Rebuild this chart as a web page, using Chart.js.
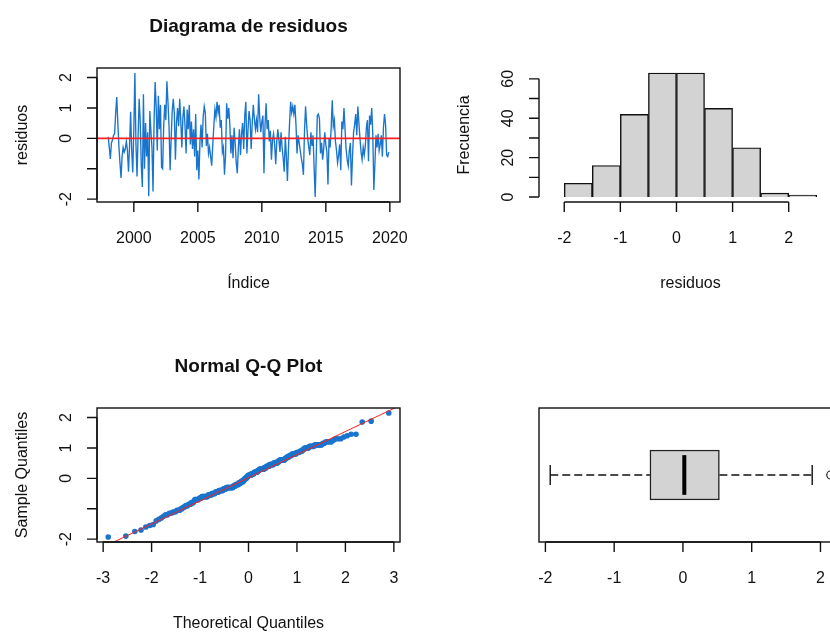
<!DOCTYPE html>
<html>

<head>
    <meta charset="utf-8">
    <title>Diagnóstico de residuos</title>
    <script src="https://cdn.jsdelivr.net/npm/chart.js"></script>
    <style>
        html,
        body {
            margin: 0;
            padding: 0;
            background: #fff;
            overflow: hidden;
        }

        body {
            position: relative;
            width: 830px;
            height: 633px;
        }

        canvas {
            position: absolute;
        }
    </style>
</head>

<body>
    <canvas id="serie" width="415" height="316" style="left:0;top:0"></canvas>
    <canvas id="histo" width="440" height="316" style="left:415px;top:0"></canvas>
    <canvas id="qq" width="415" height="317" style="left:0;top:316px"></canvas>
    <canvas id="caja" width="440" height="317" style="left:415px;top:316px"></canvas>

    <script>
        // residuos mensuales, enero 1998 - diciembre 2019
        const anioInicio = 1998;
        const residuos = [
            0.05, -0.3, -0.68, -0.15, -0.05, 0.1, 0.15, 0.85, 1.36, 0.5, -0.25, -0.8,
            -1.3, -0.6, -0.3, -0.45, -0.35, -0.1, -0.4, -1.1, -0.25, 0.87, -0.4, -1.12,
            0.3, 2.15, -0.2, -1.25, 0.05, 1.3, 0.55, -0.9, -1.6, 1.45, -1.0, 0.5,
            -0.6, 0.2, -1.9, 0.9, 0.25, -0.3, -1.75, 0.6, 1.85, 1.0, -0.4, 1.4,
            0.3, 1.1, -0.95, -1.0, 0.4, 1.1, 0.6, 1.88, 1.2, 0.4, -1.05, 0.0,
            0.9, 1.3, 0.8, -0.7, 0.5, 1.0, 0.4, 1.3, 0.6, -0.3, 0.7, 1.05,
            0.4, -0.5, 0.95, 0.3, 1.1, -0.2, 0.55, -0.35, 0.3, -0.6, 0.8, -1.05,
            -0.4, -1.35, -0.1, 0.45, -0.3, 0.7, 1.05, 0.85, -0.25, 0.15, -0.5, -0.3,
            -0.6, -0.9, -0.2, 0.4, 0.95, 0.7, 1.2, 0.85, 1.1, 0.35, 0.6, -0.45,
            -0.3, -1.2, -0.55, 1.15, 0.65, 1.0, 0.45, -0.5, 0.1, -0.65, 0.35, -0.15,
            -0.8, -1.15, -0.3, 0.3, -0.55, 0.15, 0.5, -0.35, 0.75, 1.2, -0.5, 0.25,
            0.9, 0.6, -0.35, 0.5, 1.1, 0.65, 0.3, 0.6, 0.2, 1.45, 0.7, 0.2,
            0.55, 0.75, -1.15, 0.45, 1.15, 0.3, 0.6, -0.1, 0.25, -0.7, -0.05, 0.15,
            -0.2, -0.85, -0.1, 0.3, -0.05, -0.45, 0.2, -0.3, -0.65, -1.1, 0.05, -0.6,
            -1.4, -0.3, 0.5, 1.2, 0.85, 1.05, 0.8, 1.1, 0.45, -0.5, 0.1, -0.15,
            -0.4, -0.65, -0.85, -1.2, 0.25, 1.05, 0.45, 0.0, -0.3, -0.55, 0.2, -0.25,
            0.1, -0.95, -1.93, -0.6, 0.75, 0.8, 0.65, -0.5, -0.15, -0.7, -0.35, 0.2,
            -0.2, -0.45, -1.52, 0.0, -0.3, 0.35, 1.25, 0.4, 0.6, -0.1, -0.4, -0.8,
            -0.55, -0.2, -1.05, 0.55, 0.3, 1.0, 0.3, -0.35, -0.7, -0.9, -0.4, -0.15,
            -1.55, -0.6, 0.2, 0.45, 0.8, 0.1, 1.05, 0.5, 0.0, -0.45, -0.7, -0.3,
            -0.55, -0.25, 0.35, 0.6, -0.75, 0.75, 0.45, 1.0, 0.15, -1.7, -0.85, 0.1,
            -0.3, 0.15, -0.4, -0.2, 0.1, -0.6, 0.35, 0.8, 0.45, -0.55, -0.6, -0.45
        ];

        // histograma
        const cortes = [-2, -1.5, -1, -0.5, 0, 0.5, 1, 1.5, 2, 2.5];
        const frecuencias = [7, 16, 42, 63, 63, 45, 25, 2, 1];

        // boxplot
        const bigoteInf = -1.93;
        const cuartil1 = -0.48;
        const mediana = 0.02;
        const cuartil3 = 0.53;
        const bigoteSup = 1.88;
        const atipicos = [2.15];

        // recta de referencia del Q-Q
        const qqIntercepto = 0.02;
        const qqPendiente = 0.76;

        // marcas y etiquetas de los ejes
        const marcasAnio = [2000, 2005, 2010, 2015, 2020];
        const etiquetasAnio = ['2000', '2005', '2010', '2015', '2020'];
        const marcasRes = [-2, -1, 0, 1, 2];
        const etiquetasRes = ['-2', '', '0', '1', '2'];
        const marcasHistX = [-2, -1, 0, 1, 2];
        const etiquetasHistX = ['-2', '-1', '0', '1', '2'];
        const marcasFreq = [0, 10, 20, 30, 40, 50, 60];
        const etiquetasFreq = ['0', '', '20', '', '40', '', '60'];
        const marcasTeo = [-3, -2, -1, 0, 1, 2, 3];
        const etiquetasTeo = ['-3', '-2', '-1', '0', '1', '2', '3'];

        const azul = '#1874CD';
        const rojo = '#FF2020';
        const gris = '#D3D3D3';
        const tinta = '#111';
        const fuente = '"Liberation Sans", Arial, Helvetica, sans-serif';

        // R extiende los limites un 4% por cada lado
        function rangoR(min, max) {
            const e = (max - min) * 0.04;
            return { min: min - e, max: max + e };
        }

        // cuantiles de la normal estandar (Acklam)
        function qnorm(p) {
            const a = [-3.969683028665376e+01, 2.209460984245205e+02, -2.759285104469687e+02, 1.383577518672690e+02, -3.066479806614716e+01, 2.506628277459239e+00];
            const b = [-5.447609879822406e+01, 1.615858368580409e+02, -1.556989798598866e+02, 6.680131188771972e+01, -1.328068155288572e+01];
            const c = [-7.784894002430293e-03, -3.223964580411365e-01, -2.400758277161838e+00, -2.549732539343734e+00, 4.374664141464968e+00, 2.938163982698783e+00];
            const d = [7.784695709041462e-03, 3.224671290700398e-01, 2.445134137142996e+00, 3.754408661907416e+00];
            const pl = 0.02425;
            let q, r;
            if (p < pl) {
                q = Math.sqrt(-2 * Math.log(p));
                return (((((c[0] * q + c[1]) * q + c[2]) * q + c[3]) * q + c[4]) * q + c[5]) / ((((d[0] * q + d[1]) * q + d[2]) * q + d[3]) * q + 1);
            }
            if (p > 1 - pl) {
                q = Math.sqrt(-2 * Math.log(1 - p));
                return -(((((c[0] * q + c[1]) * q + c[2]) * q + c[3]) * q + c[4]) * q + c[5]) / ((((d[0] * q + d[1]) * q + d[2]) * q + d[3]) * q + 1);
            }
            q = p - 0.5;
            r = q * q;
            return (((((a[0] * r + a[1]) * r + a[2]) * r + a[3]) * r + a[4]) * r + a[5]) * q / (((((b[0] * r + b[1]) * r + b[2]) * r + b[3]) * r + b[4]) * r + 1);
        }

        // ejes al estilo de R: linea entre la primera y la ultima marca, etiquetas del eje y giradas
        function ejesR(op) {
            return {
                id: 'ejesR',
                afterDraw(chart) {
                    const ctx = chart.ctx, a = chart.chartArea;
                    const midX = (a.left + a.right) / 2, midY = (a.top + a.bottom) / 2;
                    ctx.save();
                    ctx.strokeStyle = tinta;
                    ctx.fillStyle = tinta;
                    ctx.lineWidth = 1.4;
                    if (op.caja) ctx.strokeRect(a.left, a.top, a.right - a.left, a.bottom - a.top);
                    ctx.font = '16px ' + fuente;
                    ctx.textAlign = 'center';
                    ctx.textBaseline = 'alphabetic';
                    if (op.x) {
                        const s = chart.scales.x, y = a.bottom;
                        const px = op.x.marcas.map(v => s.getPixelForValue(v));
                        ctx.beginPath();
                        ctx.moveTo(px[0], y);
                        ctx.lineTo(px[px.length - 1], y);
                        px.forEach(p => { ctx.moveTo(p, y); ctx.lineTo(p, y + 10); });
                        ctx.stroke();
                        op.x.etiquetas.forEach((t, i) => { if (t) ctx.fillText(t, px[i], y + 41); });
                        if (op.x.titulo) ctx.fillText(op.x.titulo, midX, y + 86);
                    }
                    if (op.y) {
                        const s = chart.scales.y, x = a.left;
                        const py = op.y.marcas.map(v => s.getPixelForValue(v));
                        ctx.beginPath();
                        ctx.moveTo(x, py[0]);
                        ctx.lineTo(x, py[py.length - 1]);
                        py.forEach(p => { ctx.moveTo(x, p); ctx.lineTo(x - 10, p); });
                        ctx.stroke();
                        op.y.etiquetas.forEach((t, i) => {
                            if (!t) return;
                            ctx.save();
                            ctx.translate(x - 26, py[i]);
                            ctx.rotate(-Math.PI / 2);
                            ctx.fillText(t, 0, 0);
                            ctx.restore();
                        });
                        if (op.y.titulo) {
                            ctx.save();
                            ctx.translate(x - 70, midY);
                            ctx.rotate(-Math.PI / 2);
                            ctx.fillText(op.y.titulo, 0, 0);
                            ctx.restore();
                        }
                    }
                    if (op.titulo) {
                        ctx.font = 'bold 19px ' + fuente;
                        ctx.fillText(op.titulo, midX, a.top - 36);
                    }
                    ctx.restore();
                }
            };
        }

        function escala(lim, extra) {
            return Object.assign({ type: 'linear', display: false, min: lim.min, max: lim.max, ticks: { includeBounds: false } }, extra);
        }

        function opciones(padding, scales, extra) {
            return Object.assign({
                responsive: false,
                animation: false,
                devicePixelRatio: 1,
                events: [],
                layout: { padding },
                plugins: { legend: { display: false }, tooltip: { enabled: false } },
                scales
            }, extra);
        }

        const arriba = { left: 97, right: 15, top: 68, bottom: 114 };
        const arribaDer = { left: 124, right: 13, top: 68, bottom: 114 };
        const abajo = { left: 97, right: 15, top: 92, bottom: 91 };
        const abajoDer = { left: 124, right: 13, top: 92, bottom: 91 };

        const limT = rangoR(anioInicio, anioInicio + (residuos.length - 1) / 12);
        const limRes = rangoR(Math.min(...residuos), Math.max(...residuos));

        // serie de residuos
        const puntosSerie = residuos.map((v, i) => ({ x: anioInicio + i / 12, y: v }));
        new Chart(document.getElementById('serie'), {
            type: 'scatter',
            data: {
                datasets: [
                    { data: [{ x: limT.min, y: 0 }, { x: limT.max, y: 0 }], showLine: true, borderColor: rojo, borderWidth: 1.6, pointRadius: 0 },
                    { data: puntosSerie, showLine: true, borderColor: azul, borderWidth: 1.35, pointRadius: 0 }
                ]
            },
            options: opciones(arriba, { x: escala(limT), y: escala(limRes) }),
            plugins: [ejesR({
                caja: true,
                titulo: 'Diagrama de residuos',
                x: { marcas: marcasAnio, etiquetas: etiquetasAnio, titulo: 'Índice' },
                y: { marcas: marcasRes, etiquetas: etiquetasRes, titulo: 'residuos' }
            })]
        });

        // histograma
        const barras = frecuencias.map((f, i) => ({ x: (cortes[i] + cortes[i + 1]) / 2, y: f }));
        new Chart(document.getElementById('histo'), {
            type: 'bar',
            data: {
                datasets: [{
                    data: barras,
                    backgroundColor: gris,
                    borderColor: tinta,
                    borderWidth: 1.4,
                    barPercentage: 1,
                    categoryPercentage: 1
                }]
            },
            options: opciones(arribaDer, {
                x: escala(rangoR(cortes[0], cortes[cortes.length - 1]), { ticks: { includeBounds: false, stepSize: 0.5 } }),
                y: escala(rangoR(0, Math.max(...frecuencias)))
            }),
            plugins: [ejesR({
                x: { marcas: marcasHistX, etiquetas: etiquetasHistX, titulo: 'residuos' },
                y: { marcas: marcasFreq, etiquetas: etiquetasFreq, titulo: 'Frecuencia' }
            })]
        });

        // grafico Q-Q normal
        const ordenados = residuos.slice().sort((p, q) => p - q);
        const n = ordenados.length;
        const puntosQQ = ordenados.map((v, i) => ({ x: qnorm((i + 0.5) / n), y: v }));
        const limTeo = rangoR(puntosQQ[0].x, puntosQQ[n - 1].x);
        new Chart(document.getElementById('qq'), {
            type: 'scatter',
            data: {
                datasets: [
                    {
                        data: [
                            { x: limTeo.min, y: qqIntercepto + qqPendiente * limTeo.min },
                            { x: limTeo.max, y: qqIntercepto + qqPendiente * limTeo.max }
                        ],
                        showLine: true, borderColor: rojo, borderWidth: 1, pointRadius: 0
                    },
                    { data: puntosQQ, pointRadius: 2.8, pointBackgroundColor: azul, pointBorderWidth: 0 }
                ]
            },
            options: opciones(abajo, { x: escala(limTeo), y: escala(limRes) }),
            plugins: [ejesR({
                caja: true,
                titulo: 'Normal Q-Q Plot',
                x: { marcas: marcasTeo, etiquetas: etiquetasTeo, titulo: 'Theoretical Quantiles' },
                y: { marcas: marcasRes, etiquetas: etiquetasRes, titulo: 'Sample Quantiles' }
            })]
        });

        // boxplot horizontal
        const limCaja = rangoR(Math.min(bigoteInf, ...atipicos), Math.max(bigoteSup, ...atipicos));
        const mitad = 0.2, tope = 0.1;
        const linea = { type: 'line', pointRadius: 0, borderColor: tinta, borderWidth: 1.4 };
        new Chart(document.getElementById('caja'), {
            type: 'bar',
            data: {
                datasets: [
                    { ...linea, data: [{ x: mediana, y: 1 - mitad }, { x: mediana, y: 1 + mitad }], borderColor: '#000', borderWidth: 4 },
                    { type: 'bar', data: [{ x: [cuartil1, cuartil3], y: 1 }], backgroundColor: gris, borderColor: '#222', borderWidth: 1.5, borderSkipped: false, barThickness: 50 },
                    { ...linea, data: [{ x: bigoteInf, y: 1 }, { x: cuartil1, y: 1 }], borderDash: [8, 4] },
                    { ...linea, data: [{ x: cuartil3, y: 1 }, { x: bigoteSup, y: 1 }], borderDash: [8, 4] },
                    { ...linea, data: [{ x: bigoteInf, y: 1 - tope }, { x: bigoteInf, y: 1 + tope }] },
                    { ...linea, data: [{ x: bigoteSup, y: 1 - tope }, { x: bigoteSup, y: 1 + tope }] },
                    { type: 'line', showLine: false, data: atipicos.map(v => ({ x: v, y: 1 })), pointRadius: 4, pointBackgroundColor: 'rgba(0,0,0,0)', pointBorderColor: '#222', pointBorderWidth: 1.2 }
                ]
            },
            options: opciones(abajoDer, { x: escala(limCaja), y: escala(rangoR(0.5, 1.5)) }, { indexAxis: 'y' }),
            plugins: [ejesR({
                caja: true,
                x: { marcas: marcasHistX, etiquetas: etiquetasHistX }
            })]
        });
    </script>
</body>

</html>
